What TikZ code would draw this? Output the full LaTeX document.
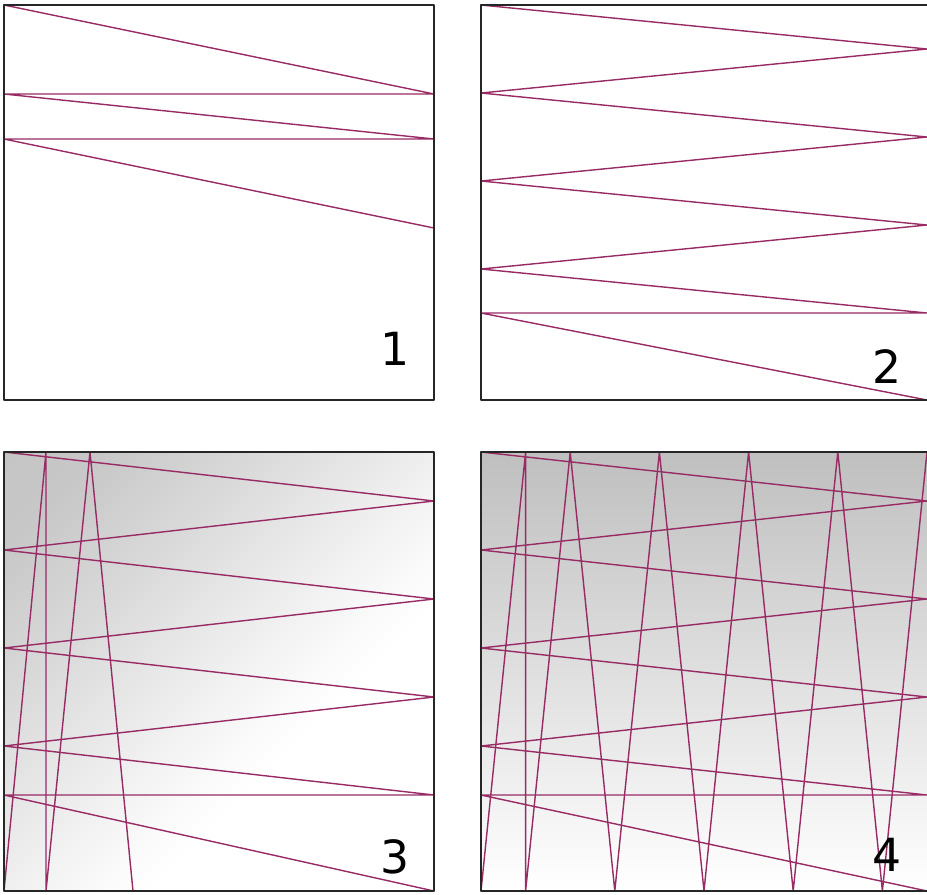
\documentclass[tikz,border=0pt]{standalone}
\usepackage{fontspec}
\setmainfont{DejaVu Sans}
\usepackage{xcolor}
\definecolor{scanred}{RGB}{152,42,100}
\pgfdeclareverticalshading{cornershade}{100bp}{color(0bp)=(white); color(38bp)=(white);
  color(46bp)=(black!4); color(55bp)=(black!9); color(65bp)=(black!15);
  color(78bp)=(black!22); color(100bp)=(black!24)}

\begin{document}
\begin{tikzpicture}[x=0.02cm,y=-0.02cm,line join=round,line cap=round,
  scanline/.style={scanred,line width=0.8pt},
  panelbox/.style={draw=black!85,line width=1.1pt},
  numlabel/.style={font=\fontsize{26}{26}\selectfont,inner sep=0pt}]
\useasboundingbox (0,0) rectangle (927,894);
% panel 1
\draw[scanline] (4,5) -- (434,94) -- (4,94) -- (434,139) -- (4,139) -- (434,228);
\draw[panelbox] (4,5) rectangle (434,400);
\node[numlabel] (n1) at (395,349) {1};
% panel 2
\draw[scanline] (481,5) -- (927,49) -- (481,93) -- (927,137) -- (481,181) -- (927,225)
  -- (481,269) -- (927,313) -- (481,313) -- (927,400);
\draw[panelbox] (481,5) rectangle (928,400);
\node[numlabel] (n2) at (887,367) {2};
% panel 3
\shade[shading=cornershade,shading angle=45] (4,452) rectangle (434,891);
\draw[scanline] (4,452) -- (434,501) -- (4,550) -- (434,599) -- (4,648) -- (434,697)
  -- (4,746) -- (434,795) -- (4,795) -- (434,891);
\draw[scanline] (4,891) -- (46,452) -- (46,891) -- (90,452) -- (133,891);
\draw[panelbox] (4,452) rectangle (434,891);
\node[numlabel] (n3) at (395,857) {3};
% panel 4
\shade[top color=black!25,middle color=black!13,bottom color=white] (481,452) rectangle (927,891);
\draw[scanline] (481,452) -- (927,501) -- (481,550) -- (927,599) -- (481,648) -- (927,697)
  -- (481,746) -- (927,795) -- (481,795) -- (927,891);
\draw[scanline] (481,891) -- (525.6,452) -- (525.6,891) -- (570.2,452) -- (614.8,891)
  -- (659.4,452) -- (704,891) -- (748.6,452) -- (793.2,891) -- (837.8,452)
  -- (882.4,891) -- (927,452);
\draw[panelbox] (481,452) rectangle (928,891);
\node[numlabel] (n4) at (887,855) {4};
\end{tikzpicture}
\end{document}
